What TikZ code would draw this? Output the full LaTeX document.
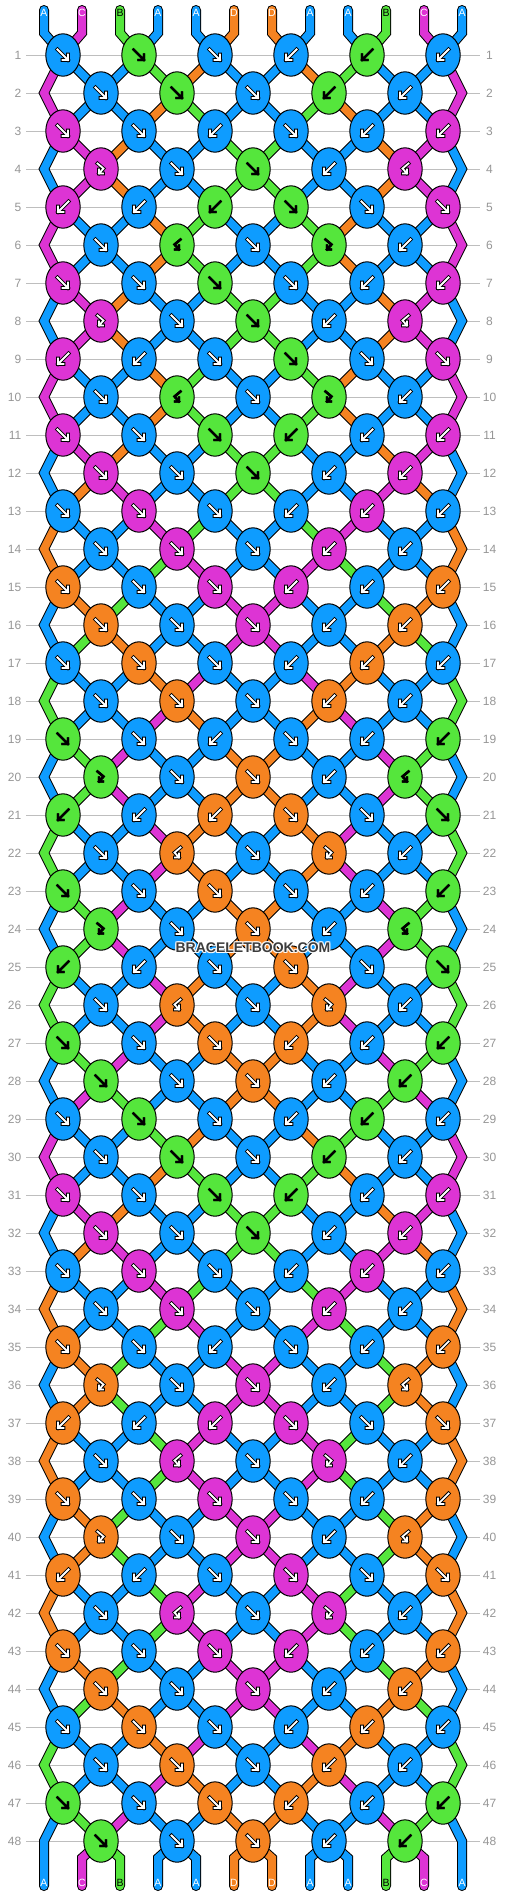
\documentclass[tikz,border=0pt]{standalone}
\usepackage{fontspec}
\setmainfont{Liberation Sans}
\definecolor{cA}{RGB}{14,156,255}
\definecolor{cB}{RGB}{85,230,60}
\definecolor{cC}{RGB}{221,52,212}
\definecolor{cD}{RGB}{245,131,33}
\definecolor{wmgray}{RGB}{60,60,60}
\definecolor{numgray}{RGB}{150,150,150}
\definecolor{linegray}{RGB}{190,190,190}
\colorlet{lblA}{white}\colorlet{lblC}{white}\colorlet{lblD}{white}\colorlet{lblB}{black}
\tikzset{
  gridline/.style={draw=linegray, line width=1pt},
  rowlbl/.style={text=numgray, font=\fontsize{12}{12}\selectfont, inner sep=0pt},
  strlbl/.style={font=\fontsize{10.5}{10.5}\selectfont, inner sep=0pt},
  knotshape/.style={draw=black, line width=1pt},
  sblk/.style={line width=10pt, draw=black, line cap=round, line join=miter},
  scol/.style={line width=8pt, line cap=round, line join=miter},
  gwo/.style={draw=black, line width=3.6pt, line cap=rect, line join=miter},
  gwi/.style={draw=white, line width=1.8pt, line cap=rect, line join=miter},
  gbk/.style={draw=black, line width=2.4pt, line cap=rect, line join=miter},
  wm/.style={font=\fontsize{14}{14}\selectfont\bfseries, inner sep=0pt},
}
\gdef\gBlack{}\gdef\gCol{}\gdef\gKnots{}
\newcommand\strandseg[2]{%
  \xdef\gBlack{\unexpanded\expandafter{\gBlack}\noexpand\draw[sblk] #2;}%
  \xdef\gCol{\unexpanded\expandafter{\gCol}\noexpand\draw[scol, draw=c#1] #2;}}
\def\gf{(-5.5,-5.5) -- (5,5) (5,-0.5) -- (5,5) -- (-0.5,5)}
\def\gb{(5.5,-5.5) -- (-5,5) (-5,-0.5) -- (-5,5) -- (0.5,5)}
\def\gF{(-3.5,-5.5) -- (2.5,-0.5) -- (-2,4.5) (-2,0.5) -- (-2,4.5) -- (2,4.5)}
\def\gB{(3.5,-5.5) -- (-2.5,-0.5) -- (2,4.5) (2,0.5) -- (2,4.5) -- (-2,4.5)}
\expandafter\def\csname rs1\endcsname{f,f,f,b,b,b}
\expandafter\def\csname rs2\endcsname{f,f,f,b,b}
\expandafter\def\csname rs3\endcsname{f,f,b,f,b,b}
\expandafter\def\csname rs4\endcsname{F,f,f,b,B}
\expandafter\def\csname rs5\endcsname{b,b,b,f,f,f}
\expandafter\def\csname rs6\endcsname{f,B,f,F,b}
\expandafter\def\csname rs7\endcsname{f,f,f,f,b,b}
\expandafter\def\csname rs8\endcsname{F,f,f,b,B}
\expandafter\def\csname rs9\endcsname{b,b,f,f,f,f}
\expandafter\def\csname rs10\endcsname{f,B,f,F,b}
\expandafter\def\csname rs11\endcsname{f,f,f,b,b,b}
\expandafter\def\csname rs12\endcsname{f,f,f,b,b}
\expandafter\def\csname rs13\endcsname{f,f,f,b,b,b}
\expandafter\def\csname rs14\endcsname{f,f,f,b,b}
\expandafter\def\csname rs15\endcsname{f,f,f,b,b,b}
\expandafter\def\csname rs16\endcsname{f,f,f,b,b}
\expandafter\def\csname rs17\endcsname{f,f,f,b,b,b}
\expandafter\def\csname rs18\endcsname{f,f,f,b,b}
\expandafter\def\csname rs19\endcsname{f,f,b,f,b,b}
\expandafter\def\csname rs20\endcsname{F,f,f,b,B}
\expandafter\def\csname rs21\endcsname{b,b,b,f,f,f}
\expandafter\def\csname rs22\endcsname{f,B,f,F,b}
\expandafter\def\csname rs23\endcsname{f,f,f,f,b,b}
\expandafter\def\csname rs24\endcsname{F,f,f,b,B}
\expandafter\def\csname rs25\endcsname{b,b,f,f,f,f}
\expandafter\def\csname rs26\endcsname{f,B,f,F,b}
\expandafter\def\csname rs27\endcsname{f,f,f,b,b,b}
\expandafter\def\csname rs28\endcsname{f,f,f,b,b}
\expandafter\def\csname rs29\endcsname{f,f,f,b,b,b}
\expandafter\def\csname rs30\endcsname{f,f,f,b,b}
\expandafter\def\csname rs31\endcsname{f,f,f,b,b,b}
\expandafter\def\csname rs32\endcsname{f,f,f,b,b}
\expandafter\def\csname rs33\endcsname{f,f,f,b,b,b}
\expandafter\def\csname rs34\endcsname{f,f,f,b,b}
\expandafter\def\csname rs35\endcsname{f,f,b,f,b,b}
\expandafter\def\csname rs36\endcsname{F,f,f,b,B}
\expandafter\def\csname rs37\endcsname{b,b,b,f,f,f}
\expandafter\def\csname rs38\endcsname{f,B,f,F,b}
\expandafter\def\csname rs39\endcsname{f,f,f,f,b,b}
\expandafter\def\csname rs40\endcsname{F,f,f,b,B}
\expandafter\def\csname rs41\endcsname{b,b,f,f,f,f}
\expandafter\def\csname rs42\endcsname{f,B,f,F,b}
\expandafter\def\csname rs43\endcsname{f,f,f,b,b,b}
\expandafter\def\csname rs44\endcsname{f,f,f,b,b}
\expandafter\def\csname rs45\endcsname{f,f,f,b,b,b}
\expandafter\def\csname rs46\endcsname{f,f,f,b,b}
\expandafter\def\csname rs47\endcsname{f,f,f,b,b,b}
\expandafter\def\csname rs48\endcsname{f,f,f,b,b}
\begin{document}
\begin{tikzpicture}[x=1pt,y=-1pt]
\useasboundingbox (0,0) rectangle (506,1896);
\fill[white] (0,0) rectangle (506,1896);
% grid lines and row numbers
\foreach \rr in {1,...,48}{%
  \pgfmathsetmacro\yy{17+38*\rr}%
  \coordinate (gl\rr) at (26,\yy);
  \coordinate (gr\rr) at (480,\yy);
  \draw[gridline] (gl\rr) -- (gr\rr);
  \node[rowlbl, anchor=east] (ln\rr) at (21.5,\yy) {\rr};
  \node[rowlbl] (rn\rr) at (489.5,\yy) {\rr};
}
% strands at the top
\foreach \i/\c in {1/A,2/C,3/B,4/A,5/A,6/D,7/D,8/A,9/A,10/B,11/C,12/A}{%
  \coordinate (t\i) at ({6+38*\i},10);
  \coordinate (tb\i) at ({6+38*\i},33);
  \expandafter\xdef\csname sc\i\endcsname{\c}%
  \expandafter\xdef\csname sp\i\endcsname{(t\i) -- (tb\i)}%
}
% rows (simulation; drawing deferred)
\foreach \rr in {1,...,48}{%
  \pgfmathtruncatemacro\odd{mod(\rr,2)}%
  \pgfmathsetmacro\yy{17+38*\rr}%
  \ifnum\odd=0
    \coordinate (v\rr-1) at (44,\yy);
    \coordinate (v\rr-12) at (462,\yy);
    \expandafter\xdef\csname sp1\endcsname{\csname sp1\endcsname -- (v\rr-1)}%
    \expandafter\xdef\csname sp12\endcsname{\csname sp12\endcsname -- (v\rr-12)}%
  \fi
  \edef\spec{\csname rs\rr\endcsname}%
  \foreach \kt [count=\jj] in \spec {%
    \ifnum\odd=1
      \pgfmathtruncatemacro\lpos{2*\jj-1}\pgfmathsetmacro\xx{-13+76*\jj}%
    \else
      \pgfmathtruncatemacro\lpos{2*\jj}\pgfmathsetmacro\xx{25+76*\jj}%
    \fi
    \pgfmathtruncatemacro\rpos{\lpos+1}%
    \coordinate (k\rr-\jj) at (\xx,\yy);
    \edef\cl{\csname sc\lpos\endcsname}\edef\cR{\csname sc\rpos\endcsname}%
    \edef\tmp{\noexpand\strandseg{\cl}{\csname sp\lpos\endcsname -- (k\rr-\jj)}\noexpand\strandseg{\cR}{\csname sp\rpos\endcsname -- (k\rr-\jj)}}\tmp
    \if\kt f\edef\tc{\cl}\expandafter\xdef\csname sc\lpos\endcsname{\cR}\expandafter\xdef\csname sc\rpos\endcsname{\cl}\fi
    \if\kt b\edef\tc{\cR}\expandafter\xdef\csname sc\lpos\endcsname{\cR}\expandafter\xdef\csname sc\rpos\endcsname{\cl}\fi
    \if\kt F\edef\tc{\cl}\fi
    \if\kt B\edef\tc{\cR}\fi
    \expandafter\xdef\csname sp\lpos\endcsname{(k\rr-\jj)}%
    \expandafter\xdef\csname sp\rpos\endcsname{(k\rr-\jj)}%
    \if\tc B\def\sA{gbk}\def\sB{gbk}\else\def\sA{gwo}\def\sB{gwi}\fi
    \xdef\gKnots{\unexpanded\expandafter{\gKnots}%
      \noexpand\filldraw[knotshape, fill=c\tc] (k\rr-\jj) ellipse [x radius=17.2, y radius=21.2];%
      \noexpand\draw[\sA, shift={(k\rr-\jj)}] \csname g\kt\endcsname;%
      \noexpand\draw[\sB, shift={(k\rr-\jj)}] \csname g\kt\endcsname;}%
  }
}
% strands at the bottom
\foreach \i in {1,...,12}{%
  \coordinate (bb\i) at ({6+38*\i},1858);
  \coordinate (be\i) at ({6+38*\i},1886);
  \edef\tmp{\noexpand\strandseg{\csname sc\i\endcsname}{\csname sp\i\endcsname -- (bb\i) -- (be\i)}}\tmp
}
\gBlack
\gCol
\gKnots
% string letters
\foreach \i/\c in {1/A,2/C,3/B,4/A,5/A,6/D,7/D,8/A,9/A,10/B,11/C,12/A}{%
  \node[strlbl, text=lbl\c] (tl\i) at (t\i) [yshift=-2.7pt] {\c};
}
\foreach \i in {1,...,12}{%
  \edef\bc{\csname sc\i\endcsname}%
  \node[strlbl, text=lbl\bc] (bl\i) at ({6+38*\i},1883) {\bc};
}
% watermark
\foreach \dx/\dy [count=\n] in {-1/0,1/0,0/-1,0/1,-1/-1,1/1,-1/1,1/-1}{%
  \node[wm, text=white, opacity=0.8] (wg\n) at (253+\dx,947.5+\dy) {BRACELETBOOK.COM};
}
\node[wm, text=wmgray] (wm) at (253,947.5) {BRACELETBOOK.COM};
\end{tikzpicture}
\end{document}
